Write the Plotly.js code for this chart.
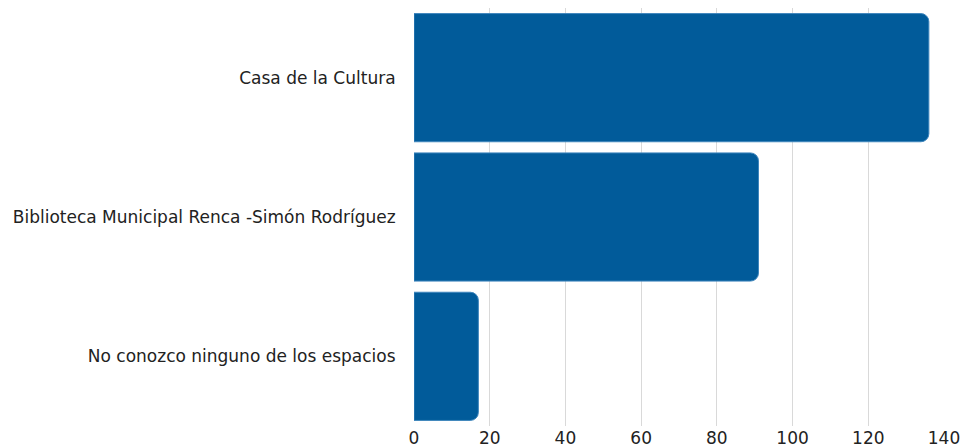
<!DOCTYPE html>
<html><head><meta charset="utf-8">
<script src="https://cdn.plot.ly/plotly-3.0.1.min.js"></script>
<style>html,body{margin:0;padding:0;background:#fff}#chart{width:962px;height:445px}</style>
</head><body><div id="chart"></div>
<script>
const categories = ["Casa de la Cultura", "Biblioteca Municipal Renca -Simón Rodríguez", "No conozco ninguno de los espacios"];
const values = [136, 91, 17];
const xTicks = [0, 20, 40, 60, 80, 100, 120, 140];

Plotly.newPlot('chart', [{
  type: 'bar', orientation: 'h',
  y: categories, x: values,
  marker: {color: '#015b9a', line: {color: '#3f86bd', width: 1}, cornerradius: 8},
  hoverinfo: 'none'
}], {
  width: 962, height: 445,
  margin: {l: 414, r: 18, t: 8, b: 19},
  paper_bgcolor: '#fff', plot_bgcolor: '#fff',
  bargap: 0.08,
  font: {family: 'DejaVu Sans', size: 17, color: '#222'},
  xaxis: {range: [0, 140], tickvals: xTicks, ticktext: xTicks.map(String),
    showgrid: true, gridcolor: '#d9d9d9', gridwidth: 1, zeroline: false,
    showline: false, ticks: '', tickfont: {size: 17, color: '#222'}, fixedrange: true},
  yaxis: {autorange: 'reversed', showgrid: false, zeroline: false, showline: false,
    ticks: 'outside', ticklen: 14, tickcolor: 'rgba(0,0,0,0)', tickfont: {size: 17, color: '#222'}},
  showlegend: false
}, {displayModeBar: false, staticPlot: true});
</script></body></html>
